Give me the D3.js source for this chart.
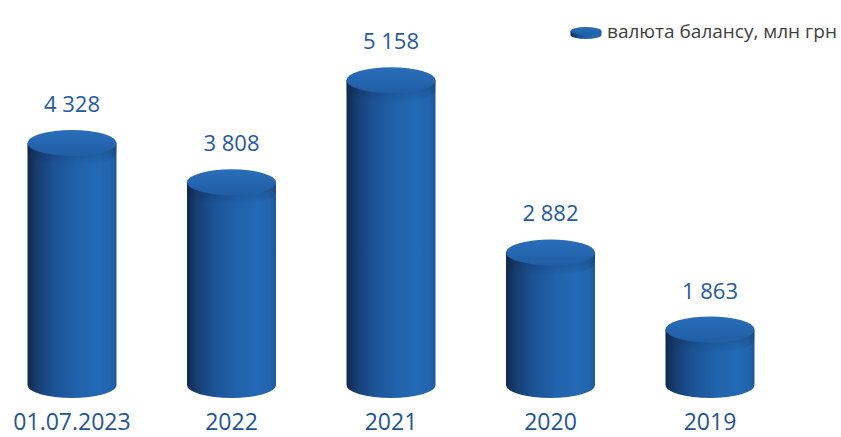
<!DOCTYPE html>
<html lang="uk">
<head>
    <meta charset="UTF-8">
    <title>Валюта балансу</title>
    <script src="https://cdn.jsdelivr.net/npm/d3@7"></script>
    <style>
        body{
            margin:0px;
            background:white;
        }
        text{ font-family:"Open Sans", sans-serif; }
    </style>
</head>
<body>
    <svg id="chart"></svg>
</body>
<script>
    // données
    const categories = ['01.07.2023', '2022', '2021', '2020', '2019'];
    const valeurs = [4328, 3808, 5158, 2882, 1863];
    const etiquettes = ['4 328', '3 808', '5 158', '2 882', '1 863'];
    const legende = 'валюта балансу, млн грн';

    const w = 841, h = 437;
    const baseY = 385;   // centre de l'ellipse du bas
    const ry = 13;

    const svg = d3.select('#chart').attr('width', w).attr('height', h);
    const defs = svg.append('defs');

    // dégradé du corps du cylindre
    const gCorps = defs.append('linearGradient').attr('id', 'corps')
        .attr('x1', 0).attr('x2', 1).attr('y1', 0).attr('y2', 0);
    [[0, '#10294d'], [0.12, '#173f73'], [0.3, '#1c5295'], [0.55, '#2062ab'],
     [0.8, '#2469b4'], [0.93, '#2265ae'], [1, '#1c589d']].forEach(s =>
        gCorps.append('stop').attr('offset', s[0]).attr('stop-color', s[1]));

    // dégradé du dessus
    const gHaut = defs.append('linearGradient').attr('id', 'haut')
        .attr('x1', 0).attr('x2', 0).attr('y1', 0).attr('y2', 1);
    [[0, '#2a6db8'], [0.5, '#2566b0'], [1, '#205da4']].forEach(s =>
        gHaut.append('stop').attr('offset', s[0]).attr('stop-color', s[1]));

    // ombre sous le bord du dessus
    const gOmbre = defs.append('linearGradient').attr('id', 'ombre')
        .attr('x1', 0).attr('x2', 0).attr('y1', 0).attr('y2', 1);
    gOmbre.append('stop').attr('offset', 0).attr('stop-color', '#0d2546').attr('stop-opacity', 0.35);
    gOmbre.append('stop').attr('offset', 1).attr('stop-color', '#0d2546').attr('stop-opacity', 0);

    const x = d3.scaleBand().domain(categories).range([27.5, 754.5]).paddingInner(0.442);
    const y = d3.scaleLinear().domain([1130, 5160]).range([baseY, 80]);

    const rx = x.bandwidth() / 2;

    function corps(cx, rx, ry, top, bas){
        return `M${cx - rx},${top} L${cx - rx},${bas} A${rx},${ry} 0 0 0 ${cx + rx},${bas} L${cx + rx},${top} Z`;
    }

    const barres = svg.append('g').selectAll('g').data(categories).join('g');

    barres.append('path')
        .attr('d', (d, i) => corps(x(d) + rx, rx, ry, y(valeurs[i]), baseY))
        .attr('fill', 'url(#corps)');

    barres.append('path')
        .attr('d', (d, i) => {
            const cx = x(d) + rx, t = y(valeurs[i]);
            return `M${cx - rx},${t} A${rx},${ry} 0 0 0 ${cx + rx},${t} L${cx + rx},${t + 10} A${rx},${ry} 0 0 1 ${cx - rx},${t + 10} Z`;
        })
        .attr('fill', 'url(#ombre)');

    barres.append('ellipse')
        .attr('cx', d => x(d) + rx)
        .attr('cy', (d, i) => y(valeurs[i]))
        .attr('rx', rx).attr('ry', ry)
        .attr('fill', 'url(#haut)');

    // valeurs
    barres.append('text')
        .attr('x', d => x(d) + rx)
        .attr('y', (d, i) => y(valeurs[i]) - ry - 18)
        .attr('text-anchor', 'middle')
        .attr('font-size', '22px')
        .attr('fill', '#1f5aa6')
        .text((d, i) => etiquettes[i]);

    // catégories
    barres.append('text')
        .attr('x', d => x(d) + rx)
        .attr('y', 430)
        .attr('text-anchor', 'middle')
        .attr('font-size', '23px')
        .attr('fill', '#1f5596')
        .text(d => d);

    // légende
    const leg = svg.append('g');
    leg.append('path').attr('d', corps(586, 15.5, 4, 31, 35)).attr('fill', 'url(#corps)');
    leg.append('ellipse').attr('cx', 586).attr('cy', 31).attr('rx', 15.5).attr('ry', 4).attr('fill', 'url(#haut)');
    leg.append('text')
        .attr('x', 607).attr('y', 38)
        .attr('font-size', '19px')
        .attr('fill', '#404040')
        .text(legende);
</script>
</html>
